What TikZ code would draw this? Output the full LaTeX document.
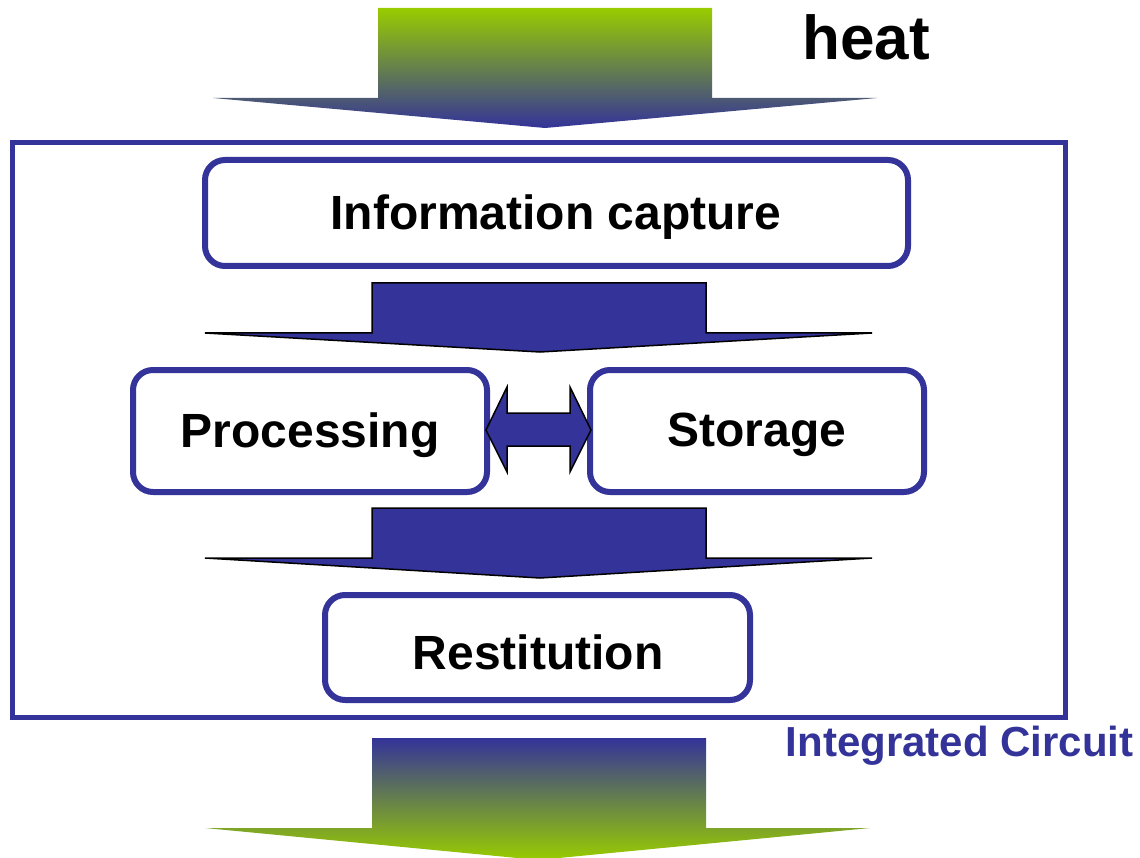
\documentclass[tikz,border=0pt]{standalone}
\usepackage{fontspec}
\setmainfont{Liberation Sans}
\definecolor{icblue}{RGB}{51,51,153}
\definecolor{icgreen}{RGB}{153,204,0}
\tikzset{
  frame/.style={draw=icblue, line width=5pt},
  stagebox/.style={draw=icblue, line width=6pt, rounded corners=20pt, fill=white},
  label/.style={font=\bfseries\fontsize{48}{56}\selectfont, text=black},
  bluearrow/.style={fill=icblue, draw=black, line width=1.5pt, line join=miter},
}
\begin{document}
\begin{tikzpicture}[x=1pt,y=-1pt]
\useasboundingbox (0,0) rectangle (1140,858);
% top gradient arrow
\shade[top color=icgreen, bottom color=icblue]
  (378,8) -- (712,8) -- (712,98) -- (877,98) -- (545,128) -- (213,98) -- (378,98) -- cycle;
\node[font=\bfseries\fontsize{62}{70}\selectfont, anchor=center] (heat) at (866,37) {heat};
% integrated circuit frame
\draw[frame] (12,143) rectangle (1065,717);
\node[font=\bfseries\fontsize{42}{50}\selectfont, text=icblue, anchor=east] (ic) at (1137,746) {Integrated Circuit};
% boxes
\draw[stagebox] (205,160) rectangle (908,266);
\node[label] (cap) at (556,217) {Information capture};
\draw[bluearrow] (372,283) -- (706,283) -- (706,333) -- (872,333) -- (540,352) -- (205,333) -- (372,333) -- cycle;
\draw[stagebox] (133,370) rectangle (487,492);
\node[label] (proc) at (310,435) {Processing};
\draw[stagebox] (590,370) rectangle (924,492);
\node[label] (stor) at (757,435) {Storage};
\draw[bluearrow] (486,430) -- (507,387) -- (507,413) -- (570,413) -- (570,387) -- (591,430) -- (570,472) -- (570,446) -- (507,446) -- (507,472) -- cycle;
\draw[bluearrow] (372,508) -- (706,508) -- (706,558) -- (872,558) -- (540,578) -- (205,558) -- (372,558) -- cycle;
\draw[stagebox] (325,595) rectangle (750,700);
\node[label] (rest) at (538,652) {Restitution};
% bottom gradient arrow
\shade[top color=icblue, bottom color=icgreen]
  (372,738) -- (706,738) -- (706,828) -- (870,828) -- (538,860) -- (205,828) -- (372,828) -- cycle;
\end{tikzpicture}
\end{document}
